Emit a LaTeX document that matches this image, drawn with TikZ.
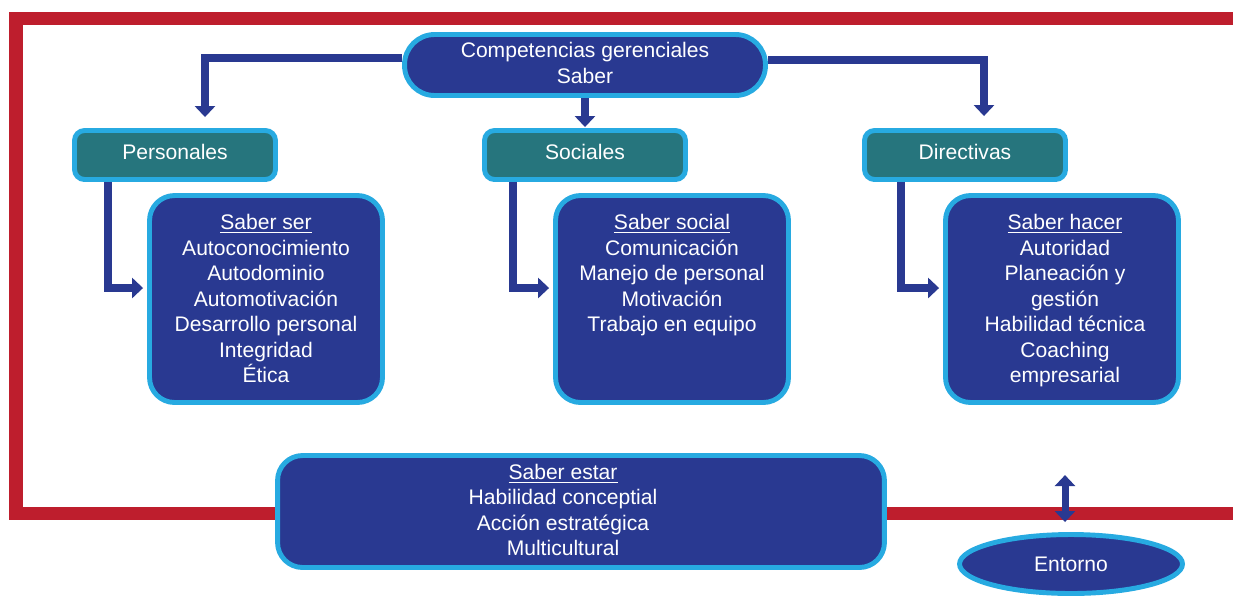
\documentclass[tikz,border=0pt]{standalone}
\usepackage{fontspec}
\setmainfont{Liberation Sans}
\usetikzlibrary{arrows.meta,shapes.geometric}
\definecolor{azul}{RGB}{41,57,145}
\definecolor{celeste}{RGB}{39,170,225}
\definecolor{verde}{RGB}{38,117,125}
\definecolor{rojo}{RGB}{190,30,45}
\tikzset{
	caja/.style={draw=celeste, fill=azul, line width=2.8pt, rounded corners=0.5cm, inner sep=0pt},
	tipo/.style={draw=celeste, fill=verde, line width=2.8pt, rounded corners=0.2cm, minimum width=4.02cm, minimum height=0.98cm, inner sep=0pt, text depth=3.4pt},
	txt/.style={text=white, align=center, inner sep=0pt},
	flecha/.style={draw=azul, line width=4.5pt, -{Triangle[width=0.4cm,length=0.22cm]}},
}
\begin{document}
\begin{tikzpicture}[x=0.02cm, y=-0.02cm, font=\fontsize{12}{14.5}\selectfont]
				\useasboundingbox (0,0) rectangle (1233,596);
				% marco
				\draw[rojo, line width=7.4pt] (1233,18.5) -- (16,18.5) -- (16,513.5) -- (1233,513.5);
				
				\node[caja, rounded corners=0.6cm, minimum width=7.22cm, minimum height=1.22cm, txt, text depth=2.3pt] (saber) at (585,65) {Competencias gerenciales\\Saber};
				\node[tipo, txt] (pers) at (175,155) {Personales};
				\node[tipo, txt] (soc) at (585,155) {Sociales};
				\node[tipo, txt] (dir) at (965,155) {Directivas};
				
				\node[caja, minimum width=4.66cm, minimum height=4.14cm] (ser) at (266,299) {};
				\node[caja, minimum width=4.66cm, minimum height=4.14cm] (social) at (672,299) {};
				\node[caja, minimum width=4.66cm, minimum height=4.14cm] (hacer) at (1062,299) {};
				\node[txt, anchor=north] (sertxt) at ([yshift=-0.42cm]ser.north) {\underline{Saber ser}\\Autoconocimiento\\Autodominio\\Automotivación\\Desarrollo personal\\Integridad\\Ética};
				\node[txt, anchor=north] (socialtxt) at ([yshift=-0.42cm]social.north) {\underline{Saber social}\\Comunicación\\Manejo de personal\\Motivación\\Trabajo en equipo};
				\node[txt, anchor=north] (hacertxt) at ([xshift=0.06cm,yshift=-0.42cm]hacer.north) {\underline{Saber hacer}\\Autoridad\\Planeación y\\gestión\\Habilidad técnica\\Coaching\\empresarial};
				
				\node[caja, minimum width=12.14cm, minimum height=2.24cm] (estar) at (581,511.5) {};
				\node[txt] (estartxt) at ([xshift=-0.36cm,yshift=0.03cm]estar.center) {\underline{Saber estar}\\Habilidad conceptial\\Acción estratégica\\Multicultural};
				
				\node[draw=celeste, fill=azul, line width=2.8pt, ellipse, minimum width=4.46cm, minimum height=1.18cm, txt] (ent) at (1071,564) {Entorno};
				
				% flechas
				\coordinate (codoI) at (205,58);
				\coordinate (codoD) at (984,60);
				\coordinate (puntaI) at (codoI |- pers.north);
				\coordinate (puntaD) at (codoD |- dir.north);
				\draw[flecha] (saber.west |- codoI) -- (codoI) -- ([yshift=0.22cm]puntaI);
				\draw[flecha] (saber.east |- codoD) -- (codoD) -- ([yshift=0.24cm]puntaD);
				\draw[flecha] (saber.south) -- ([yshift=0.02cm]soc.north);
				
				\coordinate (bajaP) at ([xshift=-1.34cm]pers.south);
				\coordinate (bajaS) at ([xshift=-1.44cm]soc.south);
				\coordinate (bajaD) at ([xshift=-1.28cm]dir.south);
				\draw[flecha] (bajaP) |- ([xshift=-0.08cm,yshift=0.22cm]ser.west);
				\draw[flecha] (bajaS) |- ([xshift=-0.08cm,yshift=0.22cm]social.west);
				\draw[flecha] (bajaD) |- ([xshift=-0.08cm,yshift=0.22cm]hacer.west);
				
				\coordinate (entArriba) at ([xshift=-0.12cm,yshift=1.14cm]ent.north);
				\draw[azul, line width=4pt, {Triangle[width=0.4cm,length=0.22cm]}-{Triangle[width=0.4cm,length=0.22cm]}] (entArriba) -- ([xshift=-0.12cm,yshift=0.2cm]ent.north);
\end{tikzpicture}
\end{document}
